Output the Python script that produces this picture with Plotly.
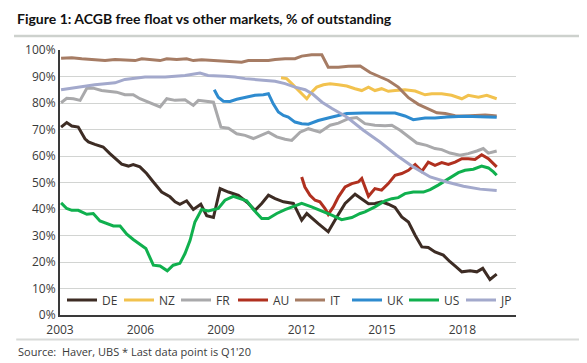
import plotly.graph_objects as go

# ---- data (fractional years, % of outstanding) ----
de_x = [2003.04, 2003.25, 2003.44, 2003.68, 2003.93, 2004.06, 2004.30, 2004.61, 2004.86, 2005.11, 2005.30, 2005.55,
        2005.73, 2005.98, 2006.23, 2006.48, 2006.79, 2007.10, 2007.29, 2007.47, 2007.72, 2007.97, 2008.25, 2008.47,
        2008.72, 2008.97, 2009.28, 2009.65, 2010.02, 2010.27, 2010.52, 2010.77, 2011.02, 2011.33, 2011.70, 2012.01,
        2012.20, 2012.63, 2013.00, 2013.32, 2013.63, 2014.00, 2014.25, 2014.50, 2014.74, 2014.99, 2015.24, 2015.49,
        2015.74, 2015.99, 2016.24, 2016.49, 2016.73, 2016.98, 2017.29, 2017.54, 2017.79, 2017.98, 2018.29, 2018.54,
        2018.76, 2019.03, 2019.28]
de_y = [70.9, 72.6, 71.3, 70.9, 66.5, 65.3, 64.4, 63.4, 60.9, 58.4, 56.9, 56.2,
        56.8, 55.9, 53.4, 50.2, 46.4, 44.6, 42.7, 41.8, 43.1, 39.8, 41.8, 37.5,
        36.8, 47.7, 46.4, 45.2, 42.1, 39.5, 42.1, 45.2, 43.9, 42.7, 42.1, 35.8,
        38.3, 34.5, 31.4, 37.0, 42.1, 45.6, 43.9, 42.0, 42.1, 42.7, 41.8, 40.6,
        37.0, 35.1, 30.1, 25.7, 25.5, 23.8, 22.6, 20.1, 18.0, 16.3, 16.7, 16.3,
        17.6, 13.4, 15.4]

nz_x = [2011.24, 2011.45, 2011.64, 2011.83, 2012.01, 2012.20, 2012.38, 2012.57, 2012.82, 2013.07, 2013.38, 2013.69,
        2014.00, 2014.25, 2014.50, 2014.74, 2014.99, 2015.24, 2015.49, 2015.86, 2016.24, 2016.61, 2016.86, 2017.23,
        2017.60, 2017.98, 2018.22, 2018.60, 2018.91, 2019.09, 2019.28]
nz_y = [89.5, 89.2, 87.3, 85.4, 83.5, 81.6, 84.1, 86.0, 86.9, 87.3, 86.9, 86.4,
        85.4, 84.7, 86.0, 84.7, 85.4, 84.4, 84.7, 85.0, 84.5, 83.1, 83.5, 83.5,
        82.9, 81.6, 82.9, 82.2, 82.9, 82.2, 81.6]

fr_x = [2003.04, 2003.25, 2003.50, 2003.75, 2004.00, 2004.24, 2004.55, 2004.86, 2005.11, 2005.42, 2005.73, 2005.98,
        2006.23, 2006.48, 2006.73, 2006.98, 2007.29, 2007.66, 2007.97, 2008.16, 2008.53, 2008.72, 2009.00, 2009.28,
        2009.59, 2009.90, 2010.21, 2010.46, 2010.77, 2011.08, 2011.39, 2011.64, 2011.95, 2012.26, 2012.69, 2013.07,
        2013.38, 2013.75, 2014.06, 2014.37, 2014.74, 2015.12, 2015.37, 2015.68, 2015.93, 2016.30, 2016.67, 2016.98,
        2017.23, 2017.54, 2017.91, 2018.22, 2018.54, 2018.78, 2018.97, 2019.28]
fr_y = [80.1, 81.8, 81.6, 81.0, 85.6, 85.6, 84.7, 84.4, 84.1, 83.1, 83.1, 81.6,
        80.6, 79.7, 78.5, 81.6, 81.0, 81.2, 79.1, 81.0, 80.6, 80.3, 70.9, 70.5,
        68.4, 67.8, 66.6, 67.8, 69.0, 67.2, 66.3, 65.9, 69.0, 70.3, 69.0, 71.6,
        72.4, 74.1, 74.5, 72.2, 71.6, 71.4, 71.6, 69.7, 67.8, 64.9, 64.0, 62.8,
        62.4, 61.1, 60.3, 60.9, 61.9, 62.8, 61.1, 61.9]

au_x = [2012.01, 2012.13, 2012.32, 2012.51, 2012.69, 2012.88, 2013.00, 2013.19, 2013.38, 2013.63, 2013.88, 2014.12,
        2014.25, 2014.50, 2014.74, 2014.99, 2015.23, 2015.49, 2015.74, 2015.99, 2016.24, 2016.49, 2016.73, 2016.98,
        2017.23, 2017.48, 2017.73, 2017.98, 2018.22, 2018.47, 2018.72, 2018.97, 2019.28]
au_y = [52.1, 48.3, 45.2, 43.3, 42.7, 40.2, 38.0, 40.8, 44.6, 48.3, 49.6, 50.2,
        51.5, 44.8, 47.7, 47.1, 49.5, 52.7, 53.4, 54.6, 56.8, 54.2, 57.7, 56.5,
        57.5, 56.8, 57.7, 59.0, 59.0, 58.7, 60.5, 59.0, 55.9]

it_x = [2003.04, 2003.44, 2003.81, 2004.18, 2004.68, 2005.05, 2005.42, 2005.80, 2006.05, 2006.42, 2006.73, 2006.98,
        2007.35, 2007.72, 2007.97, 2008.28, 2008.78, 2009.15, 2009.52, 2009.77, 2010.02, 2010.77, 2011.02, 2011.39,
        2011.76, 2012.01, 2012.38, 2012.76, 2013.00, 2013.38, 2013.75, 2014.19, 2014.56, 2014.87, 2015.24, 2015.61,
        2015.99, 2016.36, 2016.67, 2017.05, 2017.36, 2017.73, 2018.10, 2018.47, 2018.85, 2019.09, 2019.28]
it_y = [96.9, 97.1, 96.7, 96.4, 96.0, 96.4, 96.3, 96.0, 96.7, 96.4, 96.0, 96.7,
        96.4, 96.7, 96.0, 96.3, 96.0, 95.8, 95.7, 95.4, 96.0, 96.0, 96.4, 96.7,
        96.7, 97.7, 98.2, 98.2, 93.5, 93.5, 93.9, 94.0, 91.5, 90.1, 88.5, 86.0,
        82.0, 79.5, 78.1, 76.3, 76.0, 75.2, 75.1, 75.3, 75.5, 75.3, 75.1]

uk_x = [2008.75, 2008.90, 2009.09, 2009.34, 2009.59, 2009.90, 2010.27, 2010.58, 2010.77, 2010.95, 2011.14, 2011.33,
        2011.51, 2011.76, 2012.01, 2012.26, 2012.63, 2013.07, 2013.69, 2014.31, 2014.93, 2015.49, 2015.86, 2016.17,
        2016.61, 2016.98, 2017.42, 2018.10, 2018.66, 2019.28]
uk_y = [85.0, 82.2, 80.7, 80.6, 81.4, 82.2, 82.9, 83.1, 83.5, 79.7, 76.6, 75.3,
        74.7, 72.8, 72.2, 72.0, 73.4, 74.5, 76.0, 76.2, 76.1, 76.2, 75.1, 73.7,
        74.3, 74.3, 74.7, 75.0, 74.8, 74.6]

us_x = [2003.04, 2003.25, 2003.44, 2003.68, 2004.00, 2004.24, 2004.49, 2004.74, 2004.99, 2005.24, 2005.49, 2005.73,
        2005.98, 2006.20, 2006.48, 2006.73, 2007.00, 2007.22, 2007.47, 2007.66, 2007.85, 2008.03, 2008.28, 2008.53,
        2008.90, 2009.15, 2009.46, 2009.71, 2009.96, 2010.21, 2010.52, 2010.77, 2011.08, 2011.39, 2011.70, 2012.01,
        2012.38, 2012.76, 2013.13, 2013.50, 2013.88, 2014.19, 2014.37, 2014.74, 2015.12, 2015.37, 2015.61, 2015.86,
        2016.17, 2016.55, 2016.80, 2017.10, 2017.48, 2017.85, 2018.10, 2018.41, 2018.72, 2018.97, 2019.16, 2019.28]
us_y = [42.3, 40.2, 39.5, 39.5, 38.0, 38.3, 35.5, 34.5, 33.6, 33.6, 30.5, 28.5,
        26.7, 25.1, 18.8, 18.5, 16.7, 18.8, 19.5, 23.2, 28.2, 35.1, 39.8, 39.3,
        40.2, 43.3, 44.8, 43.9, 43.1, 39.8, 36.4, 36.4, 38.3, 39.8, 40.8, 42.1,
        40.8, 39.3, 37.7, 36.0, 36.8, 38.3, 38.9, 40.8, 43.1, 43.9, 44.3, 45.8,
        46.4, 46.4, 47.3, 49.0, 51.5, 53.7, 54.6, 55.0, 56.2, 55.5, 54.0, 52.7]

jp_x = [2003.04, 2003.30, 2003.56, 2003.93, 2004.30, 2004.68, 2005.05, 2005.42, 2005.80, 2006.17, 2006.92, 2007.29,
        2007.66, 2008.22, 2008.52, 2009.15, 2009.52, 2009.90, 2010.27, 2010.64, 2011.02, 2011.39, 2011.76, 2012.14,
        2012.43, 2012.77, 2013.14, 2013.69, 2014.31, 2014.93, 2015.55, 2016.17, 2016.80, 2017.42, 2018.04, 2018.66,
        2019.28]
jp_y = [85.0, 85.4, 86.0, 86.6, 86.9, 87.3, 87.6, 88.9, 89.5, 89.8, 89.8, 90.0,
        90.4, 91.3, 90.4, 90.1, 89.8, 89.2, 88.9, 88.5, 88.2, 87.3, 86.0, 85.0,
        83.3, 80.3, 77.9, 74.7, 69.7, 65.3, 60.3, 55.9, 52.1, 50.2, 48.6, 47.5,
        47.0]

series_names = ["DE", "NZ", "FR", "AU", "IT", "UK", "US", "JP"]
series_x = [de_x, nz_x, fr_x, au_x, it_x, uk_x, us_x, jp_x]
series_y = [de_y, nz_y, fr_y, au_y, it_y, uk_y, us_y, jp_y]
series_colors = ["#3d2c24", "#f2c24e", "#a9a9ab", "#b0301f", "#a67c64", "#2e8bcf", "#10b04e", "#a3a9cc"]

year_ticks = [2003, 2006, 2009, 2012, 2015, 2018]
pct_ticks = [0, 10, 20, 30, 40, 50, 60, 70, 80, 90, 100]

FONT = "Open Sans"
TXT = "#3a3a3a"

fig = go.Figure()
for name, xs, ys, col in zip(series_names, series_x, series_y, series_colors):
    fig.add_trace(go.Scatter(x=xs, y=ys, name=name, mode="lines",
                             line=dict(color=col, width=3)))

# page body has an 8px default margin, so the figure is sized/positioned to compensate
fig.update_layout(
    width=579, height=355,
    margin=dict(l=52, r=71, t=42, b=48),
    paper_bgcolor="white", plot_bgcolor="white",
    font=dict(family=FONT, size=12, color=TXT),
    showlegend=True,
    legend=dict(orientation="h", x=0.0044, y=0.057, xanchor="left", yanchor="middle",
                bgcolor="rgba(0,0,0,0)", font=dict(size=12, color=TXT),
                itemwidth=30, entrywidth=12, tracegroupgap=0),
    xaxis=dict(range=[2003, 2020], tickmode="array", tickvals=year_ticks,
               ticktext=[str(t) for t in year_ticks], showgrid=False, zeroline=False,
               showline=True, linecolor="#3a3a3a", linewidth=2, ticks="",
               ticklabelstandoff=3, tickfont=dict(size=12, color=TXT)),
    yaxis=dict(range=[0, 100], tickmode="array", tickvals=pct_ticks,
               ticktext=[f"{t}%" for t in pct_ticks], showgrid=True, gridcolor="#d2d4d2",
               gridwidth=1, zeroline=False, showline=True, linecolor="#3a3a3a", linewidth=2,
               ticks="", tickfont=dict(size=12, color=TXT)),
    annotations=[
        dict(text="<b>Figure 1: ACGB free float vs other markets, % of outstanding</b>",
             xref="paper", yref="paper", x=-0.099, y=1.117, xanchor="left", yanchor="middle",
             showarrow=False, font=dict(family="Lato", size=14, color="#111111")),
        dict(text="Source:  Haver, UBS * Last data point is Q1'20",
             xref="paper", yref="paper", x=-0.097, y=-0.1385, xanchor="left", yanchor="middle",
             showarrow=False, font=dict(family=FONT, size=11, color=TXT)),
    ],
    shapes=[
        dict(type="line", xref="paper", yref="paper", x0=-0.1009, x1=1.16, y0=1.0528, y1=1.0528,
             line=dict(color="#cdd1cd", width=2.5)),
        dict(type="line", xref="paper", yref="paper", x0=-0.096, x1=1.16, y0=-0.0925, y1=-0.0925,
             line=dict(color="#d8dad8", width=2)),
    ],
)

fig.write_html("out.html")
